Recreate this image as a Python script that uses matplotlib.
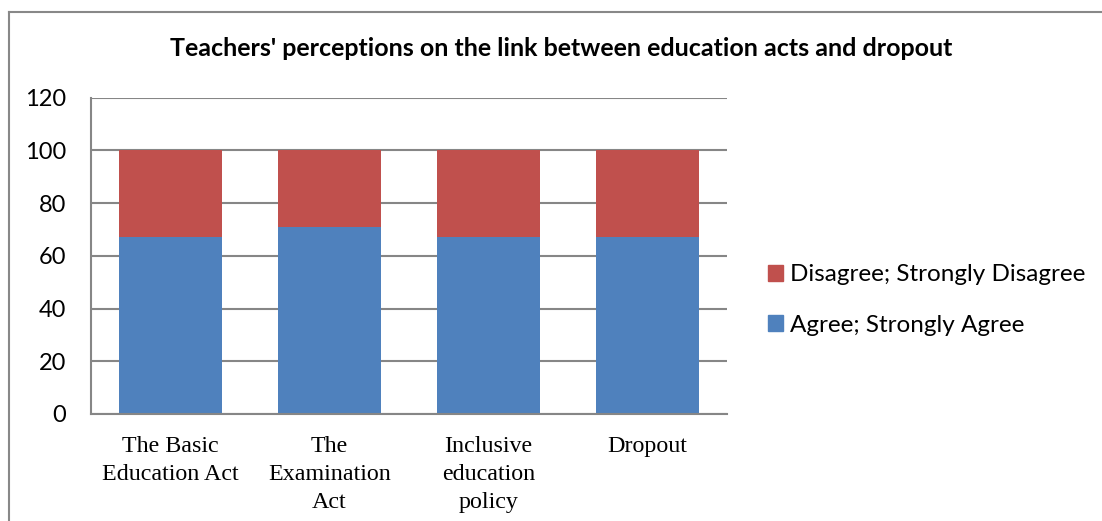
import matplotlib
matplotlib.use("Agg")
import matplotlib.pyplot as plt
from matplotlib.patches import Patch
from matplotlib.lines import Line2D

categories = ["The Basic\nEducation Act", "The\nExamination\nAct", "Inclusive\neducation\npolicy", "Dropout"]
agree = [67, 71, 67, 67]
disagree = [33, 29, 33, 33]
yticks = [0, 20, 40, 60, 80, 100, 120]
title = "Teachers' perceptions on the link between education acts and dropout"

W, H = 1102, 521
fig = plt.figure(figsize=(W / 100, H / 100), dpi=100)
ax = fig.add_axes([91 / W, 1 - 414 / H, (727 - 91) / W, (414 - 97.5) / H])

blue = "#4F81BD"
red = "#C0504D"
grid = "#868686"

x = list(range(len(categories)))
ax.bar(x, agree, width=0.645, color=blue, zorder=3, label="Agree; Strongly Agree")
ax.bar(x, disagree, bottom=agree, width=0.645, color=red, zorder=3, label="Disagree; Strongly Disagree")

ax.set_xlim(-0.5, len(categories) - 0.5)
ax.set_ylim(0, 120)
ax.set_yticks(yticks)
ax.yaxis.grid(True, color=grid, linewidth=1.5, zorder=0)
ax.set_axisbelow(True)
for s in ["top", "right"]:
    ax.spines[s].set_visible(False)
for s in ["left", "bottom"]:
    ax.spines[s].set_color(grid)
    ax.spines[s].set_linewidth(1.5)
    ax.spines[s].set_zorder(4)

ax.tick_params(axis="y", length=0, pad=18, labelsize=17)
ax.tick_params(axis="x", length=0, pad=16)
for lbl in ax.get_yticklabels():
    lbl.set_fontfamily("Lato")
ax.set_xticks(x)
ax.set_xticklabels(categories, fontfamily="Liberation Serif", fontsize=17.3)
for lbl in ax.get_xticklabels():
    lbl.set_linespacing(1.42)

fig.text(561 / W, 1 - 48 / H, title, ha="center", va="center", fontsize=18,
         fontweight="bold", fontfamily="Lato")

handles = [Patch(color=red), Patch(color=blue)]
labels = ["Disagree; Strongly Disagree", "Agree; Strongly Agree"]
fig.legend(handles, labels, loc="center left", bbox_to_anchor=(768 / W, 1 - 300 / H),
           frameon=False, handlelength=0.62, handleheight=0.62, handletextpad=0.3,
           labelspacing=1.2, prop={"family": "Lato", "size": 17.5}, borderaxespad=0,
           borderpad=0)

# outer chart border (left and top visible)
fig.add_artist(Line2D([8.5 / W, 8.5 / W], [-0.1, 1 - 11.5 / H], color="#888888", linewidth=1.5,
                      transform=fig.transFigure))
fig.add_artist(Line2D([8.5 / W, 1.1], [1 - 11.5 / H, 1 - 11.5 / H], color="#888888", linewidth=1.5,
                      transform=fig.transFigure))

fig.savefig("out.png", dpi=100)
